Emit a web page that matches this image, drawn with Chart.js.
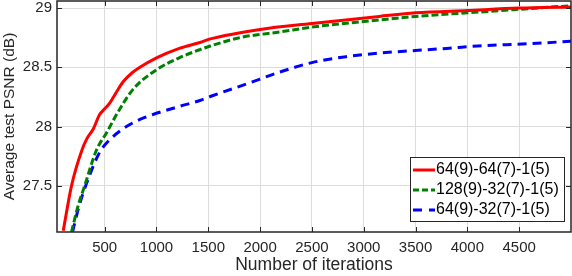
<!DOCTYPE html>
<html>
<head>
<meta charset="utf-8">
<script src="https://cdn.jsdelivr.net/npm/chart.js@4"></script>
<style>
  body { margin: 0; background: #fff; }
</style>
</head>
<body>
<canvas id="psnr" width="572" height="276"></canvas>
<script>
// values
const seriesNames = ['64(9)-64(7)-1(5)', '128(9)-32(7)-1(5)', '64(9)-32(7)-1(5)'];

const redX = [100, 180, 280, 330, 390, 450, 500, 550, 620, 680, 760, 840, 1000, 1220, 1420, 1520, 2000, 2500, 3150, 3500, 4000, 4500, 5000];
const redY = [27.12, 27.50, 27.80, 27.90, 27.98, 28.10, 28.15, 28.20, 28.30, 28.38, 28.45, 28.50, 28.58, 28.66, 28.71, 28.74, 28.82, 28.87, 28.93, 28.96, 28.98, 29.00, 29.01];

const greenX = [180, 240, 307, 420, 520, 620, 770, 1000, 1220, 1420, 1520, 1800, 2200, 2500, 3150, 3500, 4000, 4500, 5000];
const greenY = [27.11, 27.32, 27.50, 27.80, 27.95, 28.11, 28.31, 28.48, 28.58, 28.65, 28.68, 28.75, 28.80, 28.84, 28.90, 28.93, 28.96, 28.99, 29.02];

const blueX = [190, 250, 317, 450, 550, 710, 840, 960, 1220, 1420, 1540, 1870, 2190, 2500, 2830, 3150, 3800, 4100, 4600, 5000];
const blueY = [27.11, 27.32, 27.50, 27.78, 27.89, 28.00, 28.06, 28.10, 28.17, 28.22, 28.26, 28.36, 28.46, 28.54, 28.59, 28.62, 28.66, 28.68, 28.70, 28.72];

const xTicks = [500, 1000, 1500, 2000, 2500, 3000, 3500, 4000, 4500];
const yTicks = [27.5, 28, 28.5, 29];

function toPoints(xs, ys) {
    return xs.map((x, i) => ({ x: x, y: ys[i] }));
}

const FONT = 'Liberation Sans, Arial, sans-serif';

// box round the plot with inward ticks on all four sides
const boxPlugin = {
    id: 'box',
    afterDraw(chart) {
        const ctx = chart.ctx;
        const a = chart.chartArea;
        const xs = chart.scales.x, ys = chart.scales.y;
        ctx.save();
        ctx.strokeStyle = '#262626';
        ctx.lineWidth = 1;
        ctx.beginPath();
        xs.ticks.forEach(t => {
            const px = Math.round(xs.getPixelForValue(t.value)) + 0.5;
            ctx.moveTo(px, a.bottom); ctx.lineTo(px, a.bottom - 5);
            ctx.moveTo(px, a.top); ctx.lineTo(px, a.top + 5);
        });
        ys.ticks.forEach(t => {
            const py = Math.round(ys.getPixelForValue(t.value)) + 0.5;
            ctx.moveTo(a.left, py); ctx.lineTo(a.left + 5, py);
            ctx.moveTo(a.right, py); ctx.lineTo(a.right - 5, py);
        });
        ctx.stroke();
        ctx.lineWidth = 1.5;
        ctx.strokeRect(a.left, a.top, a.right - a.left, a.bottom - a.top);
        ctx.restore();
    }
};

// legend drawn inside the lower right corner
const legendPlugin = {
    id: 'boxLegend',
    afterDraw(chart) {
        const ctx = chart.ctx;
        const a = chart.chartArea;
        const w = 154, h = 64;
        const x0 = a.right - 7 - w, y0 = a.bottom - 11 - h;
        ctx.save();
        ctx.fillStyle = '#fff';
        ctx.fillRect(x0, y0, w, h);
        ctx.strokeStyle = '#262626';
        ctx.lineWidth = 1;
        ctx.strokeRect(x0 + 0.5, y0 + 0.5, w, h);
        ctx.font = '16px ' + FONT;
        ctx.textBaseline = 'middle';
        chart.data.datasets.forEach((ds, i) => {
            const cy = y0 + 13 + i * 20;
            ctx.strokeStyle = ds.borderColor;
            ctx.lineWidth = ds.borderWidth;
            ctx.setLineDash(ds.legendDash);
            ctx.beginPath();
            ctx.moveTo(x0 + 3, cy);
            ctx.lineTo(x0 + 25, cy);
            ctx.stroke();
            ctx.setLineDash([]);
            ctx.fillStyle = '#000';
            ctx.fillText(ds.label, x0 + 26, cy);
        });
        ctx.restore();
    }
};

const config = {
    type: 'line',
    data: {
        datasets: [
            {
                label: seriesNames[0],
                data: toPoints(redX, redY),
                borderColor: '#ff0000',
                borderWidth: 3,
                legendDash: []
            },
            {
                label: seriesNames[1],
                data: toPoints(greenX, greenY),
                borderColor: '#008000',
                borderWidth: 3,
                borderDash: [7, 3],
                legendDash: [6, 3]
            },
            {
                label: seriesNames[2],
                data: toPoints(blueX, blueY),
                borderColor: '#0000ff',
                borderWidth: 3,
                borderDash: [9, 6],
                legendDash: [9, 7]
            }
        ]
    },
    options: {
        responsive: false,
        animation: false,
        layout: { padding: { top: 1, right: 1, left: 0, bottom: 0 } },
        elements: {
            point: { radius: 0 },
            line: { cubicInterpolationMode: 'monotone', fill: false }
        },
        plugins: {
            legend: { display: false },
            tooltip: { enabled: false }
        },
        scales: {
            x: {
                type: 'linear',
                min: 40,
                max: 5000,
                afterBuildTicks: s => { s.ticks = xTicks.map(v => ({ value: v })); },
                afterFit: s => { s.height = 44; s.paddingLeft = 0; s.paddingRight = 0; },
                grid: { color: '#dcdcdc', drawTicks: false },
                border: { display: false },
                ticks: {
                    color: '#262626', padding: 7, font: { family: FONT, size: 15 },
                    callback: v => String(v)
                },
                title: {
                    display: true,
                    text: 'Number of iterations',
                    color: '#262626',
                    font: { family: FONT, size: 17.5 },
                    padding: { top: 0, bottom: 0 }
                }
            },
            y: {
                min: 27.11,
                max: 29.06,
                afterBuildTicks: s => { s.ticks = yTicks.map(v => ({ value: v })); },
                afterFit: s => { s.width = 57; s.paddingTop = 0; s.paddingBottom = 0; },
                grid: { color: '#dcdcdc', drawTicks: false },
                border: { display: false },
                ticks: {
                    color: '#262626', padding: 5, font: { family: FONT, size: 15 },
                    callback: v => String(v)
                },
                title: {
                    display: true,
                    text: 'Average test PSNR (dB)',
                    color: '#262626',
                    font: { family: FONT, size: 15.5 },
                    padding: { top: 0, bottom: 0 }
                }
            }
        }
    },
    plugins: [boxPlugin, legendPlugin]
};

new Chart(document.getElementById('psnr'), config);
</script>
</body>
</html>
